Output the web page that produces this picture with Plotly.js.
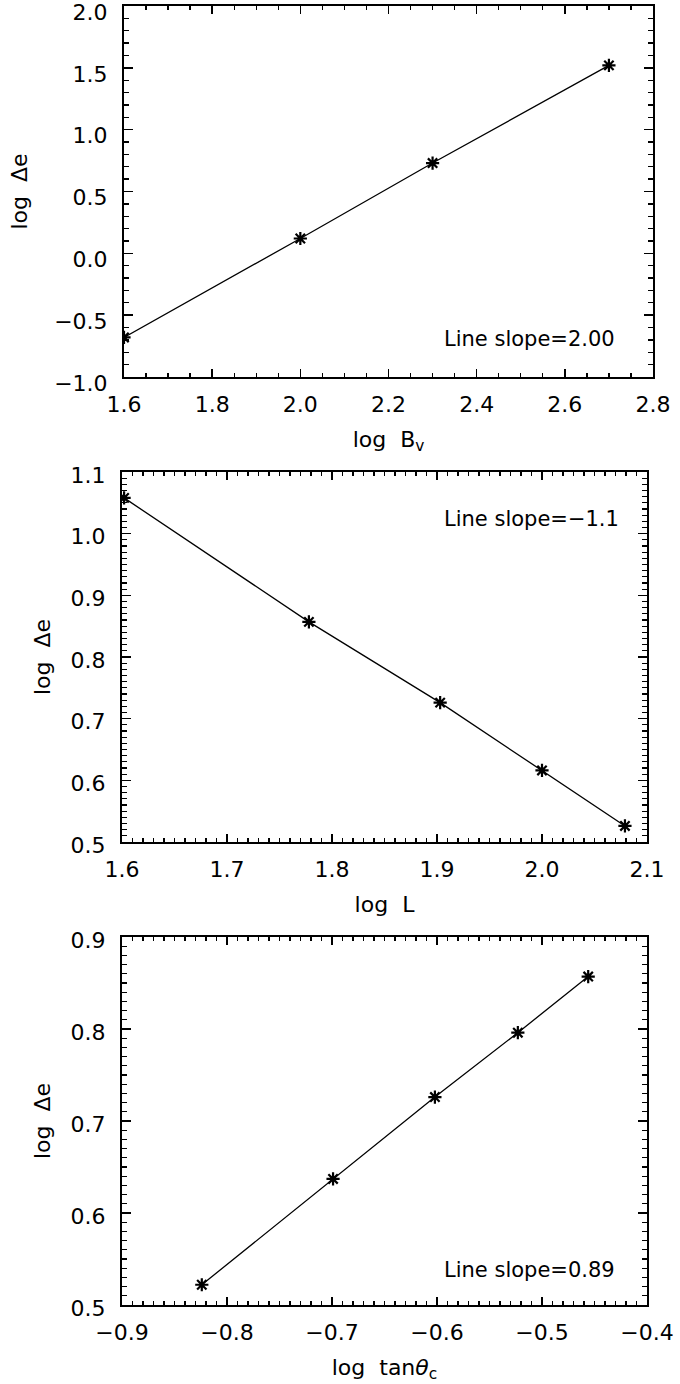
<!DOCTYPE html>
<html>
<head>
<meta charset="utf-8">
<script src="https://cdn.plot.ly/plotly-3.0.1.min.js"></script>
<style>
  html, body { margin: 0; padding: 0; background: #ffffff; }
  #chart { width: 680px; height: 1384px; }
</style>
</head>
<body>
<div id="chart"></div>
<script>
// panel 1: log B_v
const bvX = [1.60, 2.00, 2.30, 2.70];
const bvY = [-0.68, 0.12, 0.73, 1.52];
// panel 2: log L
const lenX = [1.602, 1.778, 1.903, 2.000, 2.079];
const lenY = [1.058, 0.857, 0.726, 0.616, 0.526];
// panel 3: log tan(theta_c)
const tanX = [-0.824, -0.699, -0.602, -0.523, -0.456];
const tanY = [0.522, 0.637, 0.726, 0.796, 0.857];

const xTitles = ["log  B<sub>v</sub>", "log  L", "log  tan<i>\u03b8</i><sub>c</sub>"];
const yTitle = "log  \u0394e";
const slopeLabels = ["Line slope=2.00", "Line slope=\u22121.1", "Line slope=0.89"];

const W = 680;
const H = 1384;
const FONT = "DejaVu Sans, Liberation Sans, sans-serif";

function series(x, y, xa, ya) {
  return {
    type: "scatter",
    mode: "lines+markers",
    x: x,
    y: y,
    xaxis: xa,
    yaxis: ya,
    line: { color: "#000000", width: 1.3 },
    marker: {
      symbol: "asterisk-open",
      size: 11,
      color: "#000000",
      line: { color: "#000000", width: 2.2 }
    },
    showlegend: false,
    hoverinfo: "skip"
  };
}

function xAxis(px0, px1, range, dtick, minor, title, anchor) {
  return {
    domain: [px0 / W, px1 / W],
    anchor: anchor,
    range: range,
    dtick: dtick,
    tick0: range[0],
    tickformat: ".1f",
    ticks: "inside",
    ticklen: 8,
    tickwidth: 1.5,
    tickcolor: "#000000",
    minor: { ticks: "inside", ticklen: 4, tickwidth: 1.3, dtick: minor, tickcolor: "#000000", showgrid: false },
    showline: true,
    linewidth: 2,
    linecolor: "#000000",
    mirror: "allticks",
    showgrid: false,
    zeroline: false,
    ticklabelstandoff: 7,
    tickfont: { family: FONT, size: 22, color: "#000000" },
    title: { text: title, standoff: 15, font: { family: FONT, size: 22, color: "#000000" } },
    fixedrange: true
  };
}

function yAxis(top, bottom, range, dtick, minor, anchor, titleGap, shift) {
  return {
    domain: [1 - bottom / H, 1 - top / H],
    anchor: anchor,
    range: range,
    dtick: dtick,
    tick0: range[0],
    tickformat: ".1f",
    ticks: "inside",
    ticklen: 9,
    tickwidth: 1.5,
    tickcolor: "#000000",
    minor: { ticks: "inside", ticklen: 5, tickwidth: 1.3, dtick: minor, tickcolor: "#000000", showgrid: false },
    showline: true,
    linewidth: 2,
    linecolor: "#000000",
    mirror: "allticks",
    showgrid: false,
    zeroline: false,
    ticklabelstandoff: 10,
    ticklabelshift: shift,
    ticklabeloverflow: "allow",
    tickfont: { family: FONT, size: 22, color: "#000000" },
    title: { text: yTitle, standoff: titleGap, font: { family: FONT, size: 22, color: "#000000" } },
    fixedrange: true
  };
}

function slopeNote(text, py) {
  return {
    text: text,
    xref: "paper",
    yref: "paper",
    x: 442 / W,
    y: 1 - py / H,
    xanchor: "left",
    yanchor: "middle",
    showarrow: false,
    font: { family: FONT, size: 21, color: "#000000" }
  };
}

const traces = [
  series(bvX, bvY, "x", "y"),
  series(lenX, lenY, "x2", "y2"),
  series(tanX, tanY, "x3", "y3")
];

const layout = {
  width: W,
  height: H,
  margin: { l: 0, r: 0, t: 0, b: 0 },
  paper_bgcolor: "#ffffff",
  plot_bgcolor: "#ffffff",
  font: { family: FONT, size: 22, color: "#000000" },
  showlegend: false,
  xaxis: xAxis(124, 653, [1.6, 2.8], 0.2, 0.05, xTitles[0], "y"),
  yaxis: yAxis(6, 377, [-1.0, 2.0], 0.5, 0.1, "x", 20, 6),
  xaxis2: xAxis(122, 647, [1.6, 2.1], 0.1, 0.01, xTitles[1], "y2"),
  yaxis2: yAxis(472, 842, [0.5, 1.1], 0.1, 0.01, "x2", 14, 3),
  xaxis3: xAxis(122, 647, [-0.9, -0.4], 0.1, 0.01, xTitles[2], "y3"),
  yaxis3: yAxis(937, 1305, [0.5, 0.9], 0.1, 0.01, "x3", 14, 3),
  annotations: [
    slopeNote(slopeLabels[0], 339),
    slopeNote(slopeLabels[1], 519),
    slopeNote(slopeLabels[2], 1270)
  ]
};

Plotly.newPlot("chart", traces, layout, {
  displayModeBar: false,
  staticPlot: true
});
</script>
</body>
</html>
